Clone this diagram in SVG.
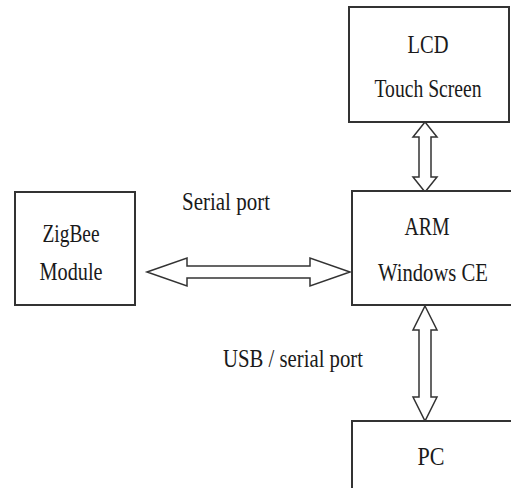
<svg xmlns="http://www.w3.org/2000/svg" width="511" height="488" viewBox="0 0 511 488">
<style>
.box{fill:#ffffff;stroke:#333333;stroke-width:2}
.arr{fill:#ffffff;stroke:#333333;stroke-width:1.5;stroke-linejoin:miter}
text{font-family:"Liberation Serif","Times New Roman",serif;font-size:25px;fill:#1a1a1a;text-anchor:middle}
</style>
<rect width="511" height="488" fill="#ffffff"/>
<g id="connectors">
<path class="arr" d="M147,272 L187,258 L187,266 L310,266 L310,258 L350,272 L310,286 L310,278 L187,278 L187,286 Z"/>
<path class="arr" d="M425,122 L437,137 L431,137 L431,177 L437,177 L425,192 L413,177 L419,177 L419,137 L413,137 Z"/>
<path class="arr" d="M425,306 L437,330 L431,330 L431,397 L437,397 L425,421 L413,397 L419,397 L419,330 L413,330 Z"/>
</g>
<g id="lcd">
<rect class="box" x="349" y="7" width="160" height="115"/>
<text x="428" y="53" textLength="41" lengthAdjust="spacingAndGlyphs">LCD</text>
<text x="428" y="97" textLength="107" lengthAdjust="spacingAndGlyphs">Touch Screen</text>
</g>
<g id="arm">
<rect class="box" x="352" y="191" width="170" height="114"/>
<text x="427" y="235" textLength="45" lengthAdjust="spacingAndGlyphs">ARM</text>
<text x="433" y="281" textLength="110" lengthAdjust="spacingAndGlyphs">Windows CE</text>
</g>
<g id="zigbee">
<rect class="box" x="15" y="192" width="120" height="113"/>
<text x="71" y="242" textLength="57" lengthAdjust="spacingAndGlyphs">ZigBee</text>
<text x="71" y="280" textLength="63" lengthAdjust="spacingAndGlyphs">Module</text>
</g>
<g id="pc">
<rect class="box" x="352" y="421" width="170" height="80"/>
<text x="431" y="465" textLength="27" lengthAdjust="spacingAndGlyphs">PC</text>
</g>
<g id="labels">
<text x="226" y="210" textLength="88" lengthAdjust="spacingAndGlyphs">Serial port</text>
<text x="293" y="367" textLength="140" lengthAdjust="spacingAndGlyphs">USB / serial port</text>
</g>
</svg>
